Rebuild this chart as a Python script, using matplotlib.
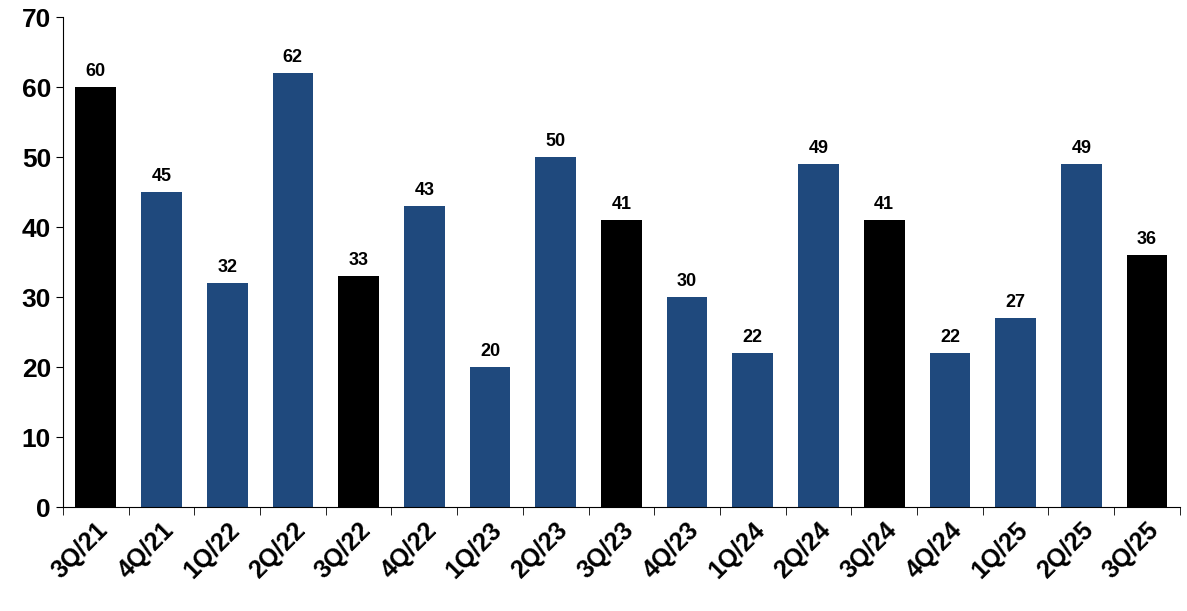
import matplotlib
matplotlib.use("Agg")
import matplotlib.pyplot as plt
import numpy as np

categories = ["3Q/21","4Q/21","1Q/22","2Q/22","3Q/22","4Q/22","1Q/23","2Q/23","3Q/23",
              "4Q/23","1Q/24","2Q/24","3Q/24","4Q/24","1Q/25","2Q/25","3Q/25"]
values = [60,45,32,62,33,43,20,50,41,30,22,49,41,22,27,49,36]

plt.rcParams['font.family'] = ['Liberation Sans', 'DejaVu Sans']
fig = plt.figure(figsize=(11.87, 6.11), dpi=100)
ax = fig.add_axes([0.053, 0.170, 0.941, 0.802])
x = np.arange(len(values))
colors = ['black' if c.startswith('3Q') else '#1F497D' for c in categories]
ax.bar(x, values, width=0.62, color=colors)
for xi, v in zip(x, values):
    ax.text(xi, v + 1, str(v), ha='center', va='bottom', fontsize=13, fontweight='bold')
ax.set_xlim(-0.5, len(values) - 0.5)
ax.set_ylim(0, 70)
ax.set_yticks(range(0, 71, 10))
ax.set_yticklabels([str(t) for t in range(0, 71, 10)], fontsize=19, fontweight='bold')
ax.set_xticks(x)
ax.set_xticklabels(categories, rotation=45, ha='right', rotation_mode='anchor',
                   fontsize=18, fontweight='bold')
ax.set_xticks(np.arange(-0.5, len(values), 1), minor=True)
ax.tick_params(axis='x', which='major', length=0, pad=8)
ax.tick_params(axis='x', which='minor', length=6, direction='out')
ax.tick_params(axis='y', length=5, direction='out')
ax.spines['top'].set_visible(False)
ax.spines['right'].set_visible(False)
fig.savefig("out.png", dpi=100)
